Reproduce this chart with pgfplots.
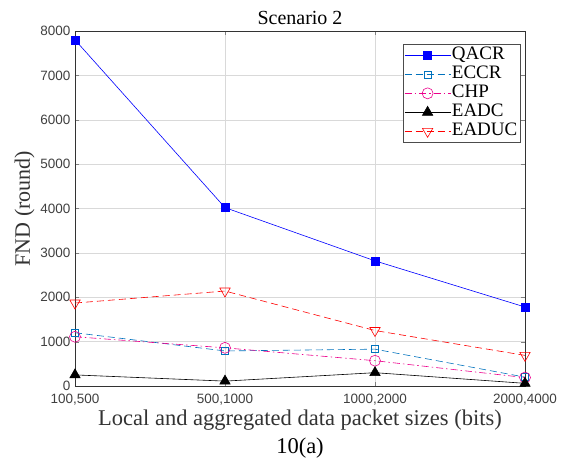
\documentclass[border=0pt]{standalone}
\usepackage{fontspec}
\setmainfont{Liberation Serif}
\newfontfamily\tickfont{Liberation Sans}
\usepackage{pgfplots}
\pgfplotsset{compat=1.18}

\definecolor{eccr}{rgb}{0,0.447,0.741}

\begin{document}
\begin{tikzpicture}
\path (-75bp,-78bp) rectangle (493bp,386bp);
\begin{axis}[
  at={(0,0)}, anchor=origin,
  scale only axis, width=450bp, height=355bp,
  xmin=0, xmax=3, ymin=0, ymax=8000,
  xtick={0,1,2,3},
  xticklabels={{100,500},{500,1000},{1000,2000},{2000,4000}},
  ytick={0,1000,...,8000},
  scaled ticks=false,
  /pgf/number format/1000 sep={},
  /pgf/number format/assume math mode=true,
  tick align=inside,
  major tick length=4bp,
  ticklabel style={font=\tickfont\fontsize{13.5bp}{15bp}\selectfont, color=black!75},
  xticklabel style={yshift=-4.5bp},
  yticklabel style={xshift=-1bp},
  grid=major,
  grid style={black!15, line width=0.4pt},
  axis line style={black!80, line width=0.5pt},
  title={Scenario 2},
  title style={font=\fontsize{20bp}{22bp}\selectfont, yshift=-3bp},
  xlabel={Local and aggregated data packet sizes (bits)},
  ylabel={FND (round)},
  xlabel style={font=\fontsize{22.5bp}{24bp}\selectfont, color=black!80, yshift=2bp},
  ylabel style={font=\fontsize{22bp}{24bp}\selectfont, color=black!80, yshift=-1bp},
  legend style={at={(0.989,0.963)}, anchor=north east, font=\fontsize{19bp}{20bp}\selectfont,
    draw=black!70, row sep=0bp, inner sep=1.5bp,
    nodes={inner sep=1bp, text height=13bp, text depth=4bp}},
  legend cell align=left,
  legend image code/.code={%
    \draw[mark repeat=2, mark phase=2] plot coordinates {(0bp,0bp) (23bp,0bp) (46bp,0bp)};},
]
\addplot[blue, line width=0.6pt, mark=square*, mark size=4bp]
  coordinates {(0,7800) (1,4020) (2,2820) (3,1780)};
\addlegendentry{QACR}
\addplot[eccr, dash pattern=on 7bp off 4bp, line width=0.6pt, mark=square, mark size=3.5bp, mark options={solid}]
  coordinates {(0,1200) (1,790) (2,830) (3,200)};
\addlegendentry{ECCR}
\addplot[magenta, dash pattern=on 7bp off 3bp on 1.5bp off 3bp, line width=0.6pt, mark=o, mark size=5.5bp, mark options={solid}]
  coordinates {(0,1110) (1,860) (2,570) (3,190)};
\addlegendentry{CHP}
\addplot[black, line width=0.6pt, mark=triangle*, mark size=6bp]
  coordinates {(0,250) (1,110) (2,300) (3,60)};
\addlegendentry{EADC}
\addplot[red, dash pattern=on 7bp off 4bp, line width=0.6pt, mark=triangle, mark size=6bp, mark options={solid, rotate=180}]
  coordinates {(0,1870) (1,2140) (2,1250) (3,690)};
\addlegendentry{EADUC}
\end{axis}
\node[font=\fontsize{22.5bp}{24bp}\selectfont] at (225bp,-62bp) {10(a)};
\end{tikzpicture}
\end{document}
